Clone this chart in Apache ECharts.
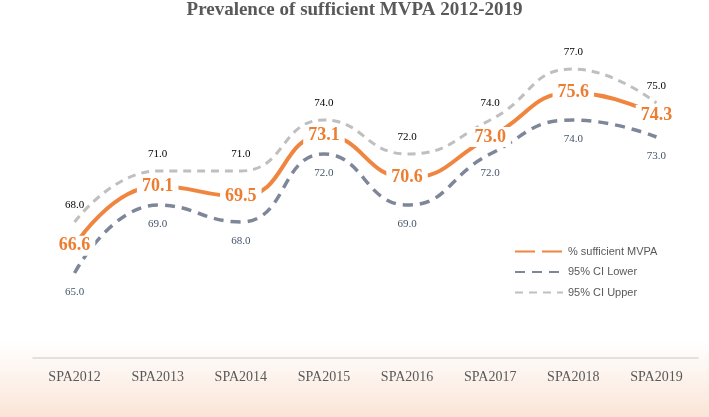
<!DOCTYPE html>
<html>
<head>
<meta charset="utf-8">
<script src="https://cdn.jsdelivr.net/npm/echarts@6/dist/echarts.min.js"></script>
<style>html,body{margin:0;padding:0;background:#fff;}#c{width:709px;height:417px;}</style>
</head>
<body>
<div id="c"></div>
<script>
var title = 'Prevalence of sufficient MVPA 2012-2019';
var categories = ['SPA2012','SPA2013','SPA2014','SPA2015','SPA2016','SPA2017','SPA2018','SPA2019'];
var pctSufficient = [66.6, 70.1, 69.5, 73.1, 70.6, 73.0, 75.6, 74.3];
var ciLower = [65.0, 69.0, 68.0, 72.0, 69.0, 72.0, 74.0, 73.0];
var ciUpper = [68.0, 71.0, 71.0, 74.0, 72.0, 74.0, 77.0, 75.0];
var seriesNames = ['% sufficient MVPA', '95% CI Lower', '95% CI Upper'];

var chart = echarts.init(document.getElementById('c'), null, {renderer: 'canvas'});
var fmt = function (p) { return Number(p.value).toFixed(1); };
chart.setOption({
  animation: false,
  backgroundColor: '#ffffff',
  graphic: [{
    type: 'rect', z: -10, silent: true,
    shape: {x: 0, y: 340, width: 709, height: 77},
    style: {fill: new echarts.graphic.LinearGradient(0, 0, 0, 1, [
      {offset: 0, color: 'rgba(251,232,220,0)'},
      {offset: 1, color: 'rgba(250,228,214,1)'}
    ])}
  }],
  title: {
    text: title, left: 'center', top: 1, padding: 0,
    textStyle: {fontFamily: 'Liberation Serif', fontWeight: 'bold', fontSize: 19, color: '#595959'}
  },
  legend: {
    orient: 'vertical', left: 509, top: 241, itemWidth: 48, itemHeight: 6, itemGap: 9.5,
    itemStyle: {opacity: 0},
    textStyle: {fontFamily: 'Liberation Sans', fontSize: 11, color: '#595959'},
    data: [
      {name: seriesNames[0], lineStyle: {type: [20, 7]}},
      {name: seriesNames[1]},
      {name: seriesNames[2]}
    ]
  },
  grid: {left: 33, right: 11, top: 18, bottom: 59},
  xAxis: {
    type: 'category', data: categories, boundaryGap: true,
    axisLine: {lineStyle: {color: '#D9D9D9', width: 1.5}},
    axisTick: {show: false},
    axisLabel: {fontFamily: 'Liberation Serif', fontSize: 14, color: '#595959', margin: 12}
  },
  yAxis: {type: 'value', min: 60, max: 80, show: false, splitLine: {show: false}},
  series: [
    {
      name: seriesNames[2], type: 'line', data: ciUpper, smooth: 0.5, symbol: 'circle', symbolSize: 0, showSymbol: true, z: 2,
      lineStyle: {color: '#BFBFBF', width: 3, type: [8, 6]},
      itemStyle: {color: '#BFBFBF'},
      label: {show: true, position: 'top', distance: 11, formatter: fmt,
        fontFamily: 'Liberation Serif', fontSize: 11, color: '#000000'}
    },
    {
      name: seriesNames[1], type: 'line', data: ciLower, smooth: 0.5, symbol: 'circle', symbolSize: 0, showSymbol: true, z: 2,
      lineStyle: {color: '#7E8799', width: 3.5, type: [10, 7]},
      itemStyle: {color: '#7E8799'},
      label: {show: true, position: 'bottom', distance: 14, formatter: fmt,
        fontFamily: 'Liberation Serif', fontSize: 11, color: '#44546A'}
    },
    {
      name: seriesNames[0], type: 'line', data: pctSufficient, smooth: 0.5, symbol: 'circle', symbolSize: 0, showSymbol: true, z: 3,
      lineStyle: {color: '#F0853F', width: 4},
      itemStyle: {color: '#F0853F'},
      label: {show: true, position: 'inside', formatter: fmt,
        fontFamily: 'Liberation Serif', fontWeight: 'bold', fontSize: 18, color: '#ED7D31',
        backgroundColor: '#ffffff', padding: [2, 5, 0, 5]}
    }
  ]
});
</script>
</body>
</html>
